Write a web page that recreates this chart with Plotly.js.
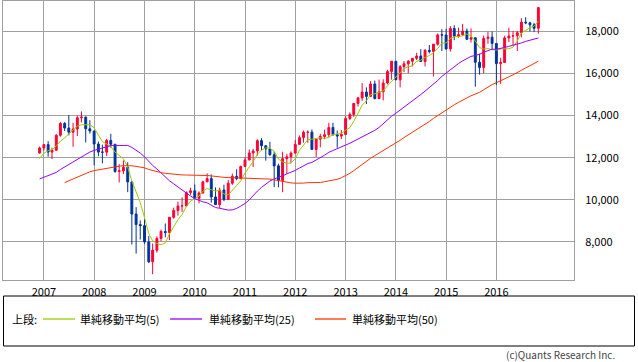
<!DOCTYPE html>
<html>
<head>
<meta charset="utf-8">
<script src="https://cdn.plot.ly/plotly-3.0.1.min.js"></script>
<style>html,body{margin:0;padding:0;background:#fff;}#chart{width:638px;height:362px;}</style>
</head>
<body>
<div id="chart"></div>
<script>
// Monthly candles, Dec 2006 - Nov 2016
const months = [
 "2006-12",
 "2007-01","2007-02","2007-03","2007-04","2007-05","2007-06","2007-07","2007-08","2007-09","2007-10","2007-11","2007-12",
 "2008-01","2008-02","2008-03","2008-04","2008-05","2008-06","2008-07","2008-08","2008-09","2008-10","2008-11","2008-12",
 "2009-01","2009-02","2009-03","2009-04","2009-05","2009-06","2009-07","2009-08","2009-09","2009-10","2009-11","2009-12",
 "2010-01","2010-02","2010-03","2010-04","2010-05","2010-06","2010-07","2010-08","2010-09","2010-10","2010-11","2010-12",
 "2011-01","2011-02","2011-03","2011-04","2011-05","2011-06","2011-07","2011-08","2011-09","2011-10","2011-11","2011-12",
 "2012-01","2012-02","2012-03","2012-04","2012-05","2012-06","2012-07","2012-08","2012-09","2012-10","2012-11","2012-12",
 "2013-01","2013-02","2013-03","2013-04","2013-05","2013-06","2013-07","2013-08","2013-09","2013-10","2013-11","2013-12",
 "2014-01","2014-02","2014-03","2014-04","2014-05","2014-06","2014-07","2014-08","2014-09","2014-10","2014-11","2014-12",
 "2015-01","2015-02","2015-03","2015-04","2015-05","2015-06","2015-07","2015-08","2015-09","2015-10","2015-11","2015-12",
 "2016-01","2016-02","2016-03","2016-04","2016-05","2016-06","2016-07","2016-08","2016-09","2016-10","2016-11"
];

const openP = [
 12221,
 12463,12622,12269,12354,13063,13628,13409,13212,13358,13896,13930,13372,
 13265,12650,12266,12263,12820,12638,11350,11378,11544,10851,9325,8829,
 8776,8001,7063,7609,8168,8500,8447,9172,9496,9712,9713,10345,
 10428,10067,10325,10857,11009,10137,9774,10466,10015,10788,11118,11006,
 11578,11892,12226,12320,12811,12570,12414,12143,11614,10913,11955,12046,
 12218,12633,12952,13212,13214,12393,12880,13009,13091,13437,13096,13026,
 13104,13861,14054,14579,14840,15116,14910,15500,14810,15130,15546,16086,
 16577,15699,16322,16458,16581,16717,16827,16563,17098,17043,17391,17828,
 17823,17165,18133,17776,17841,18011,17620,17690,16528,16285,17664,17720,
 17425,16466,16517,17685,17774,17787,17930,18432,18401,18308,18142
];
const highP = [
 12529,
 12652,12786,12478,13120,13692,13692,14022,13657,14000,14198,13950,13779,
 13280,12767,12622,12891,13136,12657,11697,11867,11790,10882,9654,9026,
 9088,8280,7925,8265,8586,8877,9188,9630,9917,10119,10406,10580,
 10730,10402,10908,11258,11205,10595,10581,10720,10948,11244,11451,11625,
 12021,12391,12419,12876,12929,12570,12754,12284,11717,12284,12188,12301,
 12842,13055,13289,13298,13338,12898,13137,13330,13653,13661,13290,13311,
 13970,14150,14586,14887,15542,15340,15634,15659,15710,15722,16174,16589,
 16589,16398,16589,16632,16736,16978,17152,17154,17350,17395,17895,18103,
 18121,18244,18288,18175,18351,18133,18137,17712,16933,17799,17978,17986,
 17436,16739,17791,18168,18016,18017,18623,18668,18450,18400,19152
];
const lowP = [
 12194,
 12340,12050,11939,12334,12997,13266,13058,12518,13029,13678,12724,13143,
 11634,12069,11731,12076,12480,11287,10827,11221,10365,7882,7449,8118,
 7909,7000,6469,7493,8039,8221,8087,9108,9252,9430,9678,10236,
 10025,9835,10296,10833,9869,9757,9614,9936,10012,10711,10929,11004,
 11573,11891,11555,12093,12356,11862,12093,10604,10597,10362,11232,11735,
 12217,12629,12714,12710,12391,12035,12492,12875,12977,13036,12471,12883,
 13105,13784,13938,14434,14687,14551,14910,14760,14777,14719,15484,15703,
 15690,15340,16063,16015,16334,16636,16563,16333,16945,15855,17320,17068,
 17136,17038,17579,17697,17790,17595,17465,15370,15942,16013,17410,17138,
 15451,15503,16505,17484,17331,17063,17713,18337,17993,17960,17884
];
const closeP = [
 12463,
 12622,12269,12354,13063,13628,13409,13212,13358,13896,13930,13372,13265,
 12650,12266,12263,12820,12638,11350,11378,11544,10851,9325,8829,8776,
 8001,7063,7609,8168,8500,8447,9172,9496,9712,9713,10345,10428,
 10067,10325,10857,11009,10137,9774,10466,10015,10788,11118,11006,11578,
 11892,12226,12320,12811,12570,12414,12143,11614,10913,11955,12046,12218,
 12633,12952,13212,13214,12393,12880,13009,13091,13437,13096,13026,13104,
 13861,14054,14579,14840,15116,14910,15500,14810,15130,15546,16086,16577,
 15699,16322,16458,16581,16717,16827,16563,17098,17043,17391,17828,17823,
 17165,18133,17776,17841,18011,17620,17690,16528,16285,17664,17720,17425,
 16466,16517,17685,17774,17787,17930,18432,18401,18308,18142,19124
];

// 単純移動平均(5)
const sma5 = [
 11965,
 12213,12331,12386,12554,12787,12945,13133,13334,13501,13561,13554,13564,
 13423,13097,12763,12653,12527,12267,12090,11946,11552,10890,10385,9865,
 9156,8399,8056,7923,7868,7957,8379,8757,9065,9308,9688,9939,
 10053,10176,10404,10537,10479,10420,10449,10280,10236,10432,10679,10901,
 11276,11564,11804,12165,12364,12468,12452,12310,11931,11808,11734,11749,
 11953,12361,12612,12846,12881,12930,12942,12917,12962,13103,13132,13151,
 13305,13428,13725,14088,14490,14700,14989,15035,15093,15179,15414,15630,
 15808,16046,16228,16327,16355,16581,16629,16757,16850,16984,17185,17437,
 17450,17668,17745,17748,17785,17876,17788,17538,17227,17157,17177,17124,
 17112,17158,17163,17173,17246,17539,17922,18065,18172,18243,18481
];
// 単純移動平均(25)
const sma25 = [
 10992,
 11065,11137,11200,11303,11440,11558,11675,11784,11920,12055,12172,12270,
 12348,12404,12455,12523,12574,12581,12590,12605,12583,12489,12359,12221,
 12043,11820,11634,11467,11284,11077,10907,10759,10613,10446,10302,10184,
 10056,9963,9907,9857,9750,9635,9600,9545,9515,9526,9593,9703,
 9827,9996,10207,10415,10591,10747,10895,10993,11050,11139,11233,11308,
 11396,11511,11627,11721,11776,11886,12015,12120,12257,12350,12426,12510,
 12601,12688,12782,12883,12975,13068,13192,13299,13439,13624,13790,13971,
 14110,14258,14398,14533,14673,14850,14998,15161,15319,15477,15667,15859,
 16021,16192,16341,16471,16598,16698,16809,16851,16910,17011,17098,17151,
 17147,17180,17234,17287,17335,17384,17448,17521,17570,17614,17683
];
// 単純移動平均(50)
const sma50 = [
 null,
 null,null,null,null,null,10821,10909,10996,11089,11180,11262,11331,
 11388,11424,11460,11505,11550,11573,11597,11619,11633,11616,11591,11566,
 11517,11443,11385,11333,11293,11258,11232,11217,11198,11183,11178,11178,
 11163,11156,11155,11156,11136,11104,11090,11068,11060,11054,11041,11031,
 11024,11020,11014,11024,11029,11016,10986,10950,10904,10876,10839,10805,
 10790,10784,10795,10814,10817,10818,10825,10860,10901,10932,10976,11051,
 11152,11258,11389,11545,11695,11830,11970,12097,12216,12337,12465,12602,
 12709,12827,12955,13080,13197,13313,13442,13588,13720,13867,14008,14142,
 14265,14397,14514,14627,14740,14837,14939,15021,15104,15225,15361,15471,
 15559,15645,15746,15842,15934,16028,16149,16259,16365,16466,16580
];

const seriesNames = ["単純移動平均(5)", "単純移動平均(25)", "単純移動平均(50)"];
const seriesColors = ["#99cc00", "#9900ff", "#ff3300"];
const yTicks = [8000, 10000, 12000, 14000, 16000, 18000];
const xTickVals = ["2007-01","2008-01","2009-01","2010-01","2011-01","2012-01","2013-01","2014-01","2015-01","2016-01"];
const xTickText = ["2007","2008","2009","2010","2011","2012","2013","2014","2015","2016"];

const FONT = "Noto Sans CJK JP, Noto Sans, sans-serif";
const GRID = "#a0a0a0";

const traces = [
  {
    type: "candlestick",
    x: months, open: openP, high: highP, low: lowP, close: closeP,
    increasing: {line: {color: "#ff0033", width: 1}, fillcolor: "#ff0033"},
    decreasing: {line: {color: "#003399", width: 1}, fillcolor: "#003399"},
    whiskerwidth: 0,
    showlegend: false, hoverinfo: "skip"
  },
  {type: "scatter", mode: "lines", x: months, y: sma5, name: seriesNames[0],
   line: {color: seriesColors[0], width: 1}, showlegend: false, hoverinfo: "skip"},
  {type: "scatter", mode: "lines", x: months, y: sma25, name: seriesNames[1],
   line: {color: seriesColors[1], width: 1}, showlegend: false, hoverinfo: "skip"},
  {type: "scatter", mode: "lines", x: months, y: sma50, name: seriesNames[2],
   line: {color: seriesColors[2], width: 1}, showlegend: false, hoverinfo: "skip", connectgaps: false}
];

// plot area: x 3..574, y 1..280
const L = 3, R = 574, T = 1, B = 280;
const W = 638, H = 362;
const px = v => (v - L) / (R - L);
const py = v => (B - v) / (B - T);

const legendY = 319;
const sampleX = [[43, 75], [170, 202], [315, 346]];
const labelX = [78, 207, 350];

const shapes = [
  {type: "rect", xref: "paper", yref: "paper", x0: px(3.5), x1: px(634.5), y0: py(296), y1: py(346),
   line: {color: "#000", width: 1}, fillcolor: "rgba(0,0,0,0)"}
];
const annotations = [
  {xref: "paper", yref: "paper", x: px(10), y: py(legendY), xanchor: "left", yanchor: "middle",
   text: "上段:", showarrow: false, font: {family: FONT, size: 11, color: "#000"}},
  {xref: "paper", yref: "paper", x: px(617), y: py(354), xanchor: "right", yanchor: "middle",
   text: "(c)Quants Research Inc.", showarrow: false, font: {family: FONT, size: 10, color: "#444"}}
];
for (let i = 0; i < 3; i++) {
  shapes.push({type: "line", xref: "paper", yref: "paper",
    x0: px(sampleX[i][0]), x1: px(sampleX[i][1]), y0: py(legendY), y1: py(legendY),
    line: {color: seriesColors[i], width: 1.3}});
  annotations.push({xref: "paper", yref: "paper", x: px(labelX[i]), y: py(legendY),
    xanchor: "left", yanchor: "middle", text: seriesNames[i], showarrow: false,
    font: {family: FONT, size: 11, color: "#000"}});
}

const layout = {
  width: W, height: H,
  margin: {l: L, r: W - R, t: T, b: H - B},
  paper_bgcolor: "#fff", plot_bgcolor: "#fff",
  showlegend: false,
  font: {family: FONT, size: 11, color: "#000"},
  xaxis: {
    type: "date",
    range: ["2006-03-10", "2017-07-18"],
    rangeslider: {visible: false},
    tickmode: "array", tickvals: xTickVals, ticktext: xTickText,
    showgrid: true, gridcolor: GRID, gridwidth: 1,
    showline: true, linecolor: GRID, linewidth: 1, mirror: true,
    ticks: "outside", ticklen: 2, tickcolor: "rgba(0,0,0,0)",
    tickfont: {family: FONT, size: 11, color: "#000"},
    zeroline: false, fixedrange: true
  },
  yaxis: {
    side: "right",
    range: [6196, 19438],
    tickvals: yTicks,
    tickformat: ",d",
    showgrid: true, gridcolor: GRID, gridwidth: 1,
    showline: true, linecolor: GRID, linewidth: 1, mirror: true,
    ticks: "outside", ticklen: 8, tickcolor: "rgba(0,0,0,0)",
    tickfont: {family: FONT, size: 11, color: "#000"},
    zeroline: false, fixedrange: true
  },
  shapes: shapes,
  annotations: annotations
};

Plotly.newPlot("chart", traces, layout, {staticPlot: true, displayModeBar: false});
</script>
</body>
</html>
